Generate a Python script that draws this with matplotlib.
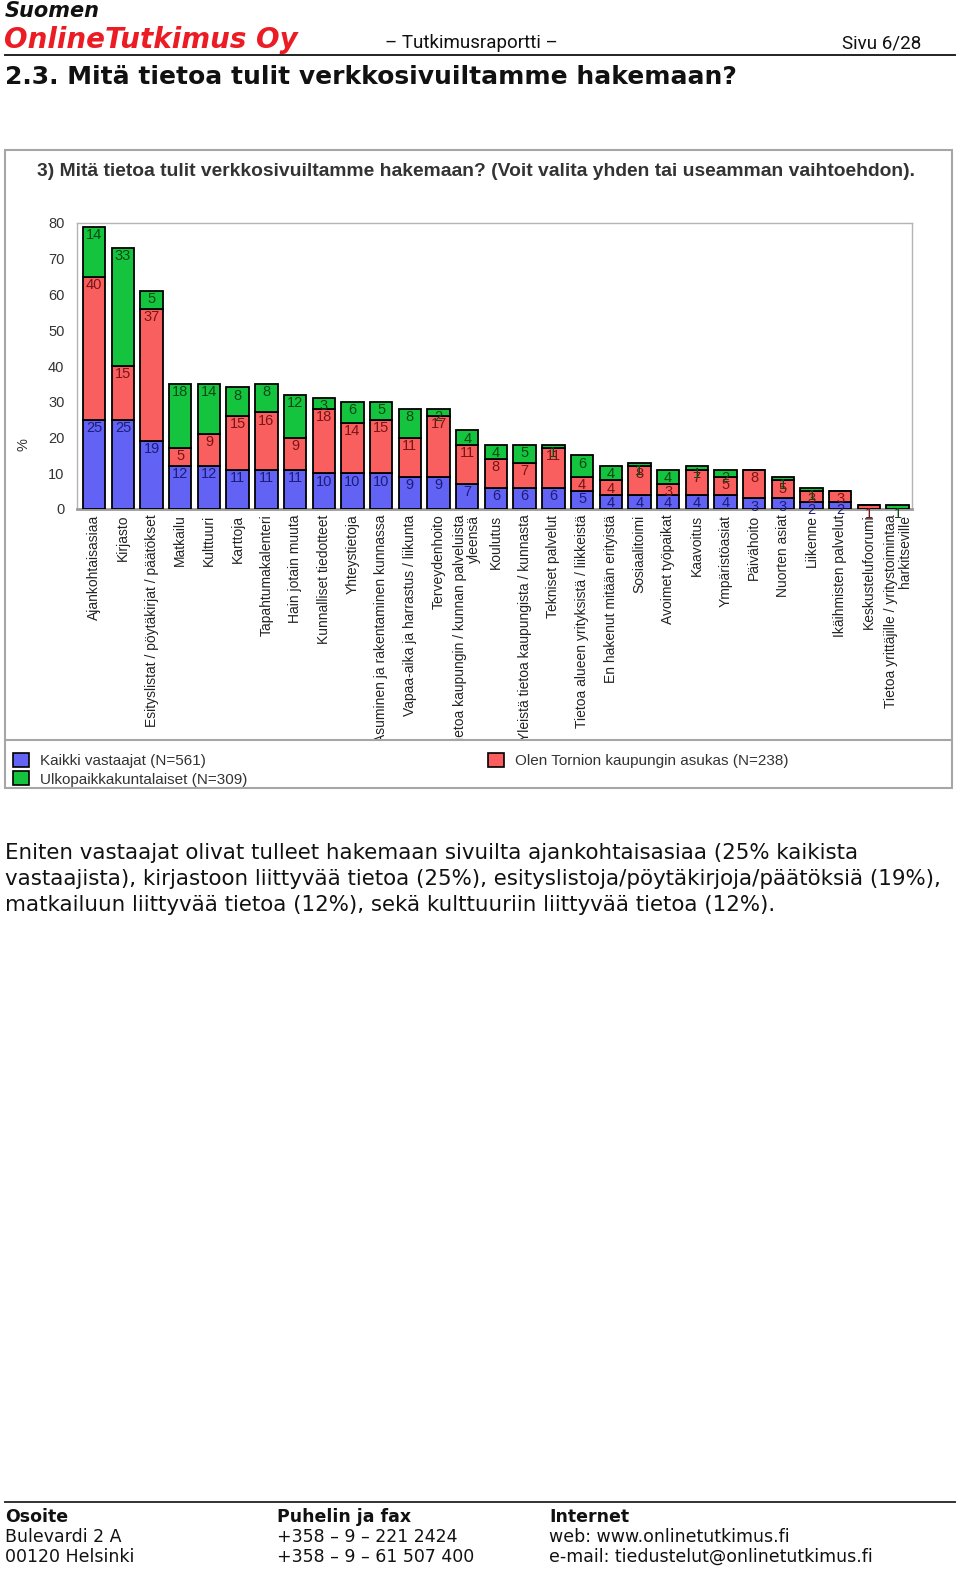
import matplotlib
matplotlib.use("Agg")
import matplotlib.pyplot as plt
from matplotlib.patches import Rectangle, Patch
from matplotlib.lines import Line2D
from matplotlib.transforms import Bbox, TransformedBbox
import numpy as np

# ---------------- data ----------------
categories = [
    "Ajankohtaisasiaa", "Kirjasto", "Esityslistat / pöytäkirjat / päätökset",
    "Matkailu", "Kulttuuri", "Karttoja", "Tapahtumakalenteri", "Hain jotain muuta",
    "Kunnalliset tiedotteet", "Yhteystietoja", "Asuminen ja rakentaminen kunnassa",
    "Vapaa-aika ja harrastus / liikunta", "Terveydenhoito",
    "Tietoa kaupungin / kunnan palveluista\nyleensä", "Koulutus",
    "Yleistä tietoa kaupungista / kunnasta", "Tekniset palvelut",
    "Tietoa alueen yrityksistä / liikkeistä", "En hakenut mitään erityistä",
    "Sosiaalitoimi", "Avoimet työpaikat", "Kaavoitus", "Ympäristöasiat",
    "Päivähoito", "Nuorten asiat", "Liikenne", "Ikäihmisten palvelut",
    "Keskustelufoorumi", "Tietoa yrittäjille / yritystoimintaa\nharkitseville",
]
kaikki = [25, 25, 19, 12, 12, 11, 11, 11, 10, 10, 10, 9, 9, 7, 6, 6, 6, 5, 4, 4, 4, 4, 4, 3, 3, 2, 2, 0, 0]
tornio = [40, 15, 37, 5, 9, 15, 16, 9, 18, 14, 15, 11, 17, 11, 8, 7, 11, 4, 4, 8, 3, 7, 5, 8, 5, 3, 3, 1, 0]
ulko   = [14, 33, 5, 18, 14, 8, 8, 12, 3, 6, 5, 8, 2, 4, 4, 5, 1, 6, 4, 1, 4, 1, 2, 0, 1, 1, 0, 0, 1]
series_names = ["Kaikki vastaajat (N=561)", "Olen Tornion kaupungin asukas (N=238)",
                "Ulkopaikkakuntalaiset (N=309)"]
yticks = [0, 10, 20, 30, 40, 50, 60, 70, 80]

# ---------------- styling ----------------
W, H = 960, 1576
BLUE, RED, GREEN = "#6262f4", "#f95f5f", "#14c43e"
TXT_COLS = ["#1c1c7a", "#7a1414", "#0b4a14"]
CHART_FONT = "Liberation Sans"

fig = plt.figure(figsize=(W / 100, H / 100), dpi=100)

def fx(px):
    return px / W

def fy(py):
    return 1 - py / H

# ---------------- header ----------------
fig.text(fx(5), fy(11), "Suomen", fontsize=15, fontweight="bold", style="italic",
         family="DejaVu Sans", va="center", ha="left", color="#111")
fig.text(fx(4), fy(40), "OnlineTutkimus Oy", fontsize=20, fontweight="bold", style="italic",
         family="DejaVu Sans", va="center", ha="left", color="#ec1c24")
fig.text(fx(385), fy(43), "– Tutkimusraportti –", fontsize=13.5, family="Roboto",
         va="center", ha="left", color="#111")
fig.text(fx(921), fy(43), "Sivu 6/28", fontsize=13.5, family="Roboto",
         va="center", ha="right", color="#111")
fig.add_artist(Line2D([fx(5), fx(955)], [fy(55), fy(55)], color="#222", lw=1.4))
fig.text(fx(5), fy(77), "2.3. Mitä tietoa tulit verkkosivuiltamme hakemaan?", fontsize=18,
         fontweight="bold", family="DejaVu Sans", va="center", ha="left", color="#111")

# ---------------- chart frame ----------------
fig.add_artist(Rectangle((fx(5), fy(788)), fx(952) - fx(5), fy(150) - fy(788),
                         transform=fig.transFigure, fill=False, edgecolor="#a6a6a6", lw=1.5))
fig.add_artist(Line2D([fx(5), fx(952)], [fy(740), fy(740)], color="#a6a6a6", lw=1.5))
fig.text(fx(37), fy(171), "3) Mitä tietoa tulit verkkosivuiltamme hakemaan? (Voit valita yhden tai useamman vaihtoehdon).",
         fontsize=13.9, fontweight="bold", family=CHART_FONT, va="center", ha="left", color="#333")

# ---------------- axes ----------------
ax = fig.add_axes([fx(77), fy(509), fx(912) - fx(77), fy(223) - fy(509)])
x = np.arange(len(categories))
bw = 0.78
b1 = np.array(kaikki, dtype=float)
b2 = np.array(tornio, dtype=float)
b3 = np.array(ulko, dtype=float)
ax.bar(x, b1, bw, color=BLUE, edgecolor="black", lw=1.3, zorder=3)
ax.bar(x, b2, bw, bottom=b1, color=RED, edgecolor="black", lw=1.3, zorder=3)
ax.bar(x, b3, bw, bottom=b1 + b2, color=GREEN, edgecolor="black", lw=1.3, zorder=3)

pad = 0.35
for vals, bottoms, col in [(b1, np.zeros_like(b1), TXT_COLS[0]), (b2, b1, TXT_COLS[1]),
                           (b3, b1 + b2, TXT_COLS[2])]:
    for xi, v, bt in zip(x, vals, bottoms):
        if v <= 0:
            continue
        ax.text(xi, bt + v - pad, f"{int(v)}", ha="center", va="top", fontsize=10.5,
                family=CHART_FONT, color=col, zorder=5)

ax.set_xlim(-0.6, len(categories) - 0.5)
ax.set_ylim(0, 80)
ax.set_yticks(yticks)
ax.set_yticklabels([str(t) for t in yticks], fontsize=10.5, family=CHART_FONT, color="#333")
ax.tick_params(axis="y", length=0, pad=9)
ax.set_xticks(x)
ax.set_xticklabels(categories, rotation=90, fontsize=10, family=CHART_FONT, color="#222",
                   ha="center", va="top", multialignment="right", linespacing=1.0)
ax.tick_params(axis="x", length=0, pad=4)
clip = TransformedBbox(Bbox([[fx(5), fy(740)], [fx(952), fy(510)]]), fig.transFigure)
for lbl in ax.get_xticklabels():
    lbl.set_clip_on(True)
    lbl.set_clip_box(clip)
for s in ["top", "right", "left"]:
    ax.spines[s].set_color("#b4b4b4")
    ax.spines[s].set_linewidth(1.0)
ax.spines["bottom"].set_color("#9a9a9a")
ax.spines["bottom"].set_linewidth(2.0)
ax.set_ylabel("%", fontsize=10.5, family=CHART_FONT, color="#333")
ax.yaxis.set_label_coords((30 - 77) / (912 - 77), (509 - 445) / (509 - 223))

# ---------------- legend ----------------
hb = Patch(facecolor=BLUE, edgecolor="black", lw=1.2)
hr = Patch(facecolor=RED, edgecolor="black", lw=1.2)
hg = Patch(facecolor=GREEN, edgecolor="black", lw=1.2)
leg_kw = dict(frameon=False, borderpad=0, handlelength=1.05, handleheight=1.05,
              handletextpad=0.75, labelspacing=0.22,
              prop={"family": CHART_FONT, "size": 11})
l1 = fig.legend([hb, hg], [series_names[0], series_names[2]], loc="upper left",
                bbox_to_anchor=(fx(5), fy(745)), **leg_kw)
l2 = fig.legend([hr], [series_names[1]], loc="upper left",
                bbox_to_anchor=(fx(480), fy(745)), **leg_kw)
for lg in (l1, l2):
    for t in lg.get_texts():
        t.set_color("#333")

# ---------------- body text ----------------
body = [
    "Eniten vastaajat olivat tulleet hakemaan sivuilta ajankohtaisasiaa (25% kaikista",
    "vastaajista), kirjastoon liittyvää tietoa (25%), esityslistoja/pöytäkirjoja/päätöksiä (19%),",
    "matkailuun liittyvää tietoa (12%), sekä kulttuuriin liittyvää tietoa (12%).",
]
for i, line in enumerate(body):
    fig.text(fx(5), fy(853 + 26 * i), line, fontsize=15.4, family="DejaVu Sans",
             va="center", ha="left", color="#111")

# ---------------- footer ----------------
fig.add_artist(Line2D([fx(5), fx(955)], [fy(1502), fy(1502)], color="#333", lw=1.4))
cols = [
    (5, ["Osoite", "Bulevardi 2 A", "00120 Helsinki"]),
    (277, ["Puhelin ja fax", "+358 – 9 – 221 2424", "+358 – 9 – 61 507 400"]),
    (549, ["Internet", "web: www.onlinetutkimus.fi", "e-mail: tiedustelut@onlinetutkimus.fi"]),
]
for cx, lines in cols:
    for j, t in enumerate(lines):
        fig.text(fx(cx), fy(1517 + 20 * j), t, fontsize=12.5, family="DejaVu Sans",
                 fontweight="bold" if j == 0 else "normal", va="center", ha="left", color="#111")

fig.savefig("out.png", dpi=100)
